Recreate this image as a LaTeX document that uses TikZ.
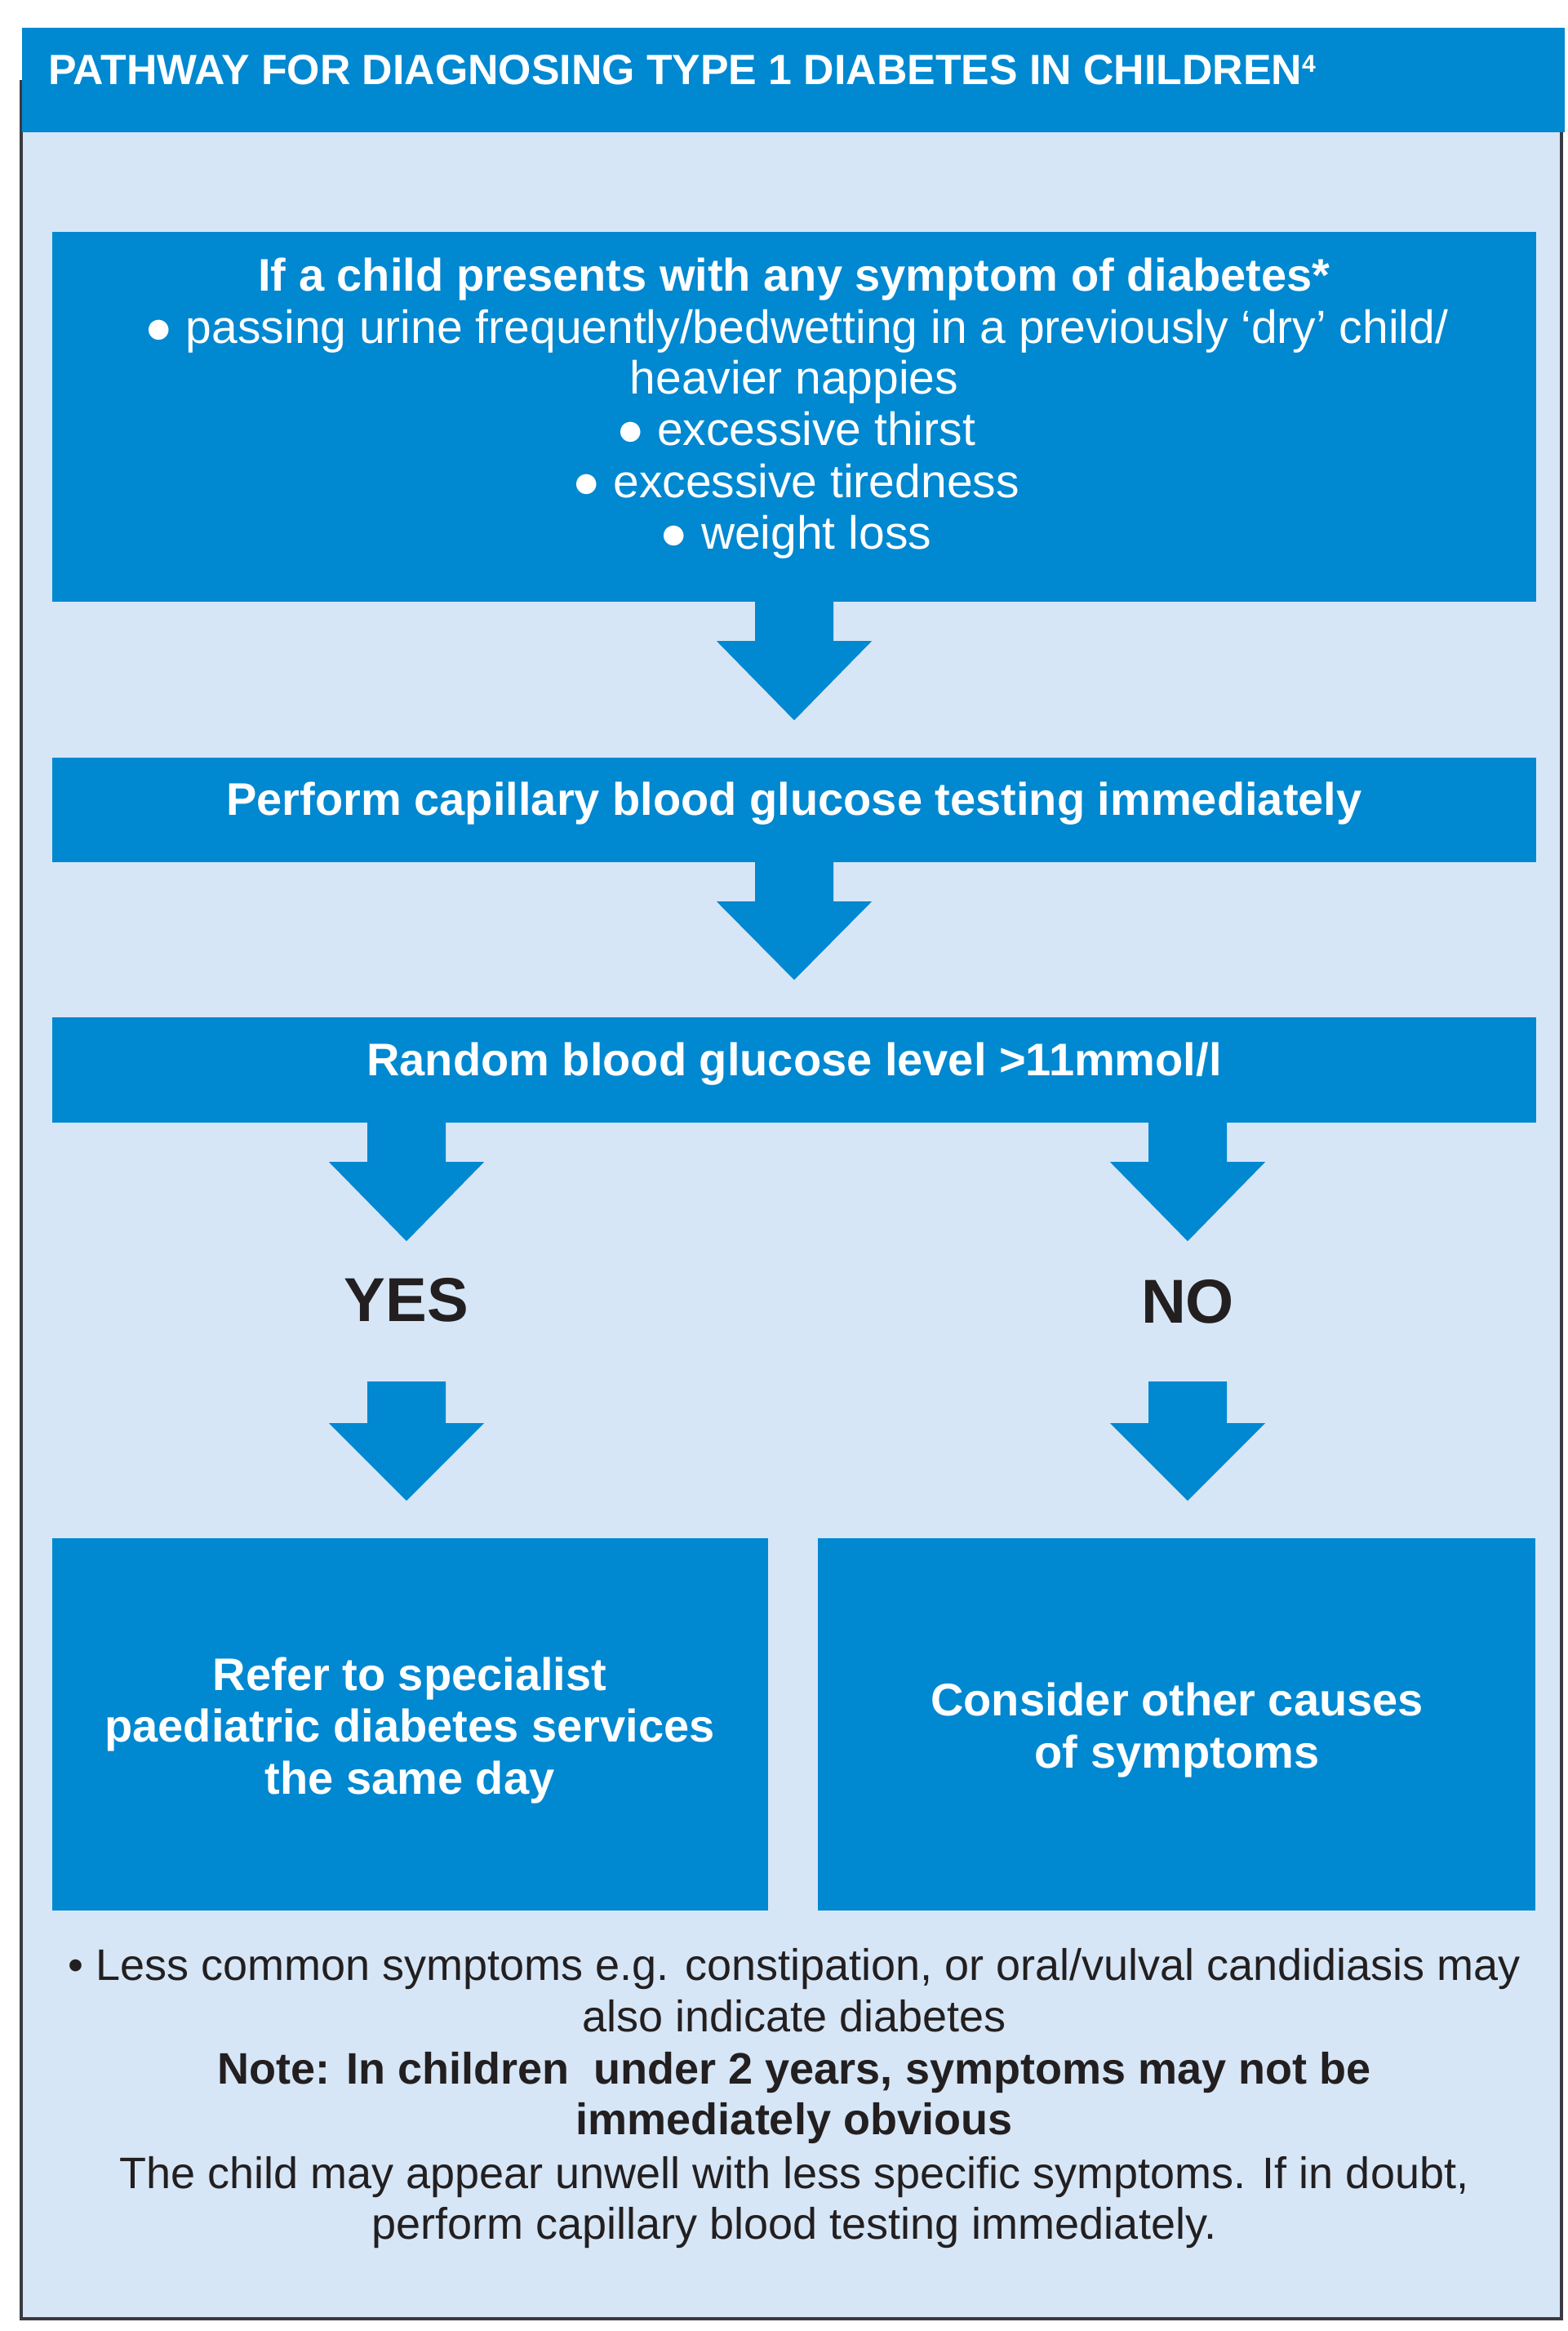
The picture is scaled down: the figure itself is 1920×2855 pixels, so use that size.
\documentclass[tikz,border=0pt]{standalone}
\usepackage{fontspec}
\setmainfont{Liberation Sans}
\usetikzlibrary{calc}
\definecolor{nhsblue}{HTML}{0088D1}
\definecolor{panel}{HTML}{D6E6F6}
\definecolor{ink}{HTML}{231F20}
\definecolor{framec}{HTML}{3A3A40}
\newcommand\fsz[1]{\fontsize{#1}{#1}\selectfont}
% fat arrow: #1 start coordinate, #2 shaft length, #3 total length
\newcommand\fatarrow[3]{%
  \fill[nhsblue] ($(#1)+(-48,-1)$) -- ($(#1)+(48,-1)$) -- ($(#1)+(48,#2)$) -- ($(#1)+(95,#2)$)
    -- ($(#1)+(0,#3)$) -- ($(#1)+(-95,#2)$) -- ($(#1)+(-48,#2)$) -- cycle;}
\begin{document}
\begin{tikzpicture}[x=1pt,y=-1pt,
  box/.style={fill=nhsblue, draw=none, inner sep=0pt, minimum width=#1},
  wt/.style={anchor=base, text=white, inner sep=0pt, font=\fsz{57}},
  wb/.style={anchor=base, text=white, inner sep=0pt, font=\bfseries\fsz{56}},
  dk/.style={anchor=base, text=ink, inner sep=0pt, font=\fsz{54}},
  dkb/.style={anchor=base, text=ink, inner sep=0pt, font=\bfseries\fsz{54}},
  yn/.style={anchor=base, text=ink, inner sep=0pt, font=\bfseries\fsz{76}}]
\useasboundingbox (0,0) rectangle (1920,2855);
% panel and frame
\fill[white] (0,0) rectangle (1920,2855);
\fill[panel] (27,98) rectangle (1914,2841);
\draw[framec, line width=3.5pt] (26,98) -- (26,2840) -- (1913,2840) -- (1913,162);
\fill[nhsblue] (27,34) rectangle (1917,162);
\node[anchor=base west, text=white, inner sep=0pt, font=\bfseries\fsz{51.8}] (title) at (59,104)
  {PATHWAY FOR DIAGNOSING TYPE 1 DIABETES IN CHILDREN\raisebox{15.5pt}{\fsz{30}4}};

% boxes
\node[box=1818pt, minimum height=453pt] (b1) at (973,510.5) {};
\node[box=1818pt, minimum height=128pt] (b2) at (973,992) {};
\node[box=1818pt, minimum height=129pt] (b3) at (973,1310.5) {};
\node[box=877pt, minimum height=456pt] (yesbox) at (502.5,2112) {};
\node[box=879pt, minimum height=456pt] (nobox) at (1441.5,2112) {};

% box 1 text
\node[wb] (b1l1) at (973,356) {If a child presents with any symptom of diabetes*};
\node[wt] (b1l2) at (976,420) {● passing urine frequently/bedwetting in a previously ‘dry’ child/};
\node[wt] (b1l3) at (973,482) {heavier nappies};
\node[wt] (b1l4) at (975,545) {● excessive thirst};
\node[wt] (b1l5) at (975,609) {● excessive tiredness};
\node[wt] (b1l6) at (975,672) {● weight loss};

\node[wb] (b2t) at (973,998) {Perform capillary blood glucose testing immediately};
\node[wb] (b3t) at (973,1317) {Random blood glucose level >11mmol/l};

% yes / no
\node[yn] (yes) at (498,1618) {YES};
\node[yn] (no) at (1455,1620) {NO};

\node[wb] (y1) at (502,2070) {Refer to specialist};
\node[wb] (y2) at (502,2133) {paediatric diabetes services};
\node[wb] (y3) at (502,2197) {the same day};
\node[wb] (n1) at (1442,2101) {Consider other causes};
\node[wb] (n2) at (1442,2165) {of symptoms};

% arrows
\fatarrow{b1.south}{48}{145}
\fatarrow{b2.south}{48}{144}
\coordinate (yesin) at (b3.south -| yes.base);
\coordinate (noin) at (b3.south -| no.base);
\fatarrow{yesin}{48}{145}
\fatarrow{noin}{48}{145}
\coordinate (yesout) at (498,1693);
\coordinate (noout) at (1455,1693);
\fatarrow{yesout}{50}{145}
\fatarrow{noout}{50}{145}

% footnotes
\node[dk] (f1) at (973,2425) {• Less common symptoms e.g. constipation, or oral/vulval candidiasis may};
\node[dk] (f2) at (973,2488) {also indicate diabetes};
\node[dkb] (f3) at (973,2552) {Note: In children\ \ under 2 years, symptoms may not be};
\node[dkb] (f4) at (973,2614) {immediately obvious};
\node[dk] (f5) at (973,2680) {The child may appear unwell with less specific symptoms. If in doubt,};
\node[dk] (f6) at (973,2742) {perform capillary blood testing immediately.};
\end{tikzpicture}
\end{document}
